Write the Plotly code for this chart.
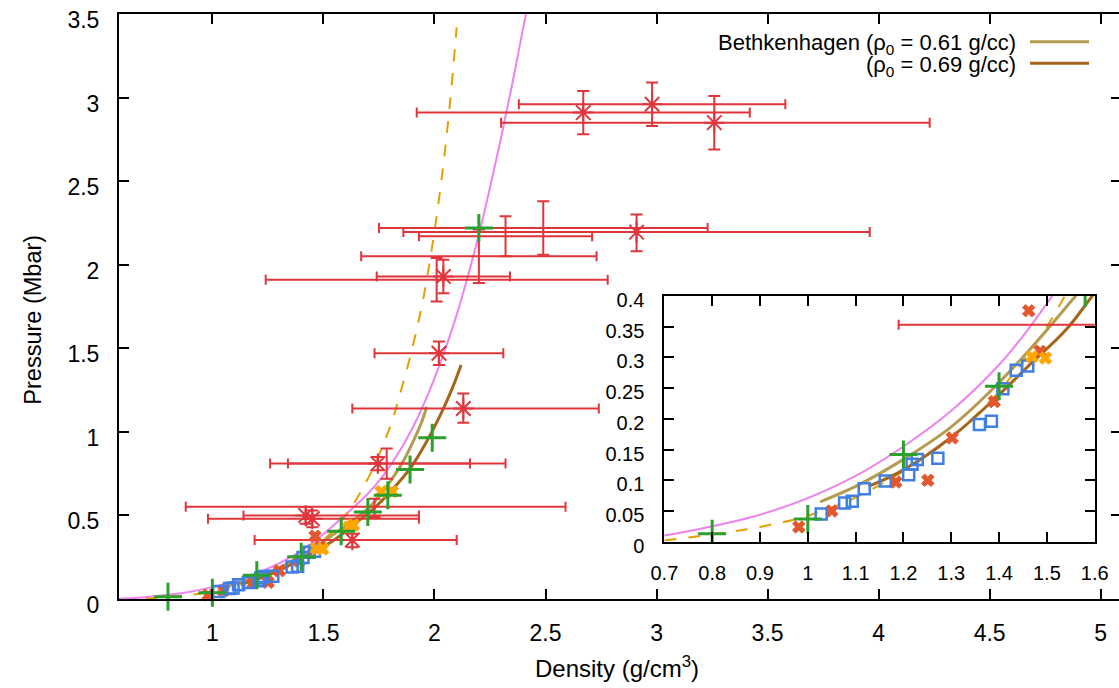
import plotly.graph_objects as go

# ---------------- data ----------------
# Red experimental points drawn with asterisk markers + asymmetric error bars
star_x   = [2.98, 2.67, 3.26, 2.91, 2.04, 2.02, 2.13, 1.745, 1.42, 1.45, 1.63]
star_y   = [2.96, 2.91, 2.85, 2.195, 1.93, 1.47, 1.14, 0.81, 0.50, 0.48, 0.353]
star_xlo = [2.38, 1.92, 2.30, 1.86, 1.74, 1.73, 1.63, 1.34, 1.14, 0.98, 1.19]
star_xhi = [3.58, 3.42, 4.23, 3.96, 2.34, 2.31, 2.74, 2.16, 1.93, 1.93, 2.10]
star_ylo = [2.83, 2.78, 2.69, 2.08, 1.83, 1.40, 1.055, 0.77, 0.45, 0.43, 0.31]
star_yhi = [3.09, 3.04, 3.01, 2.30, 2.03, 1.54, 1.23, 0.85, 0.55, 0.53, 0.39]

# Red experimental points drawn with error bars only
bar_x   = [2.49, 2.32, 2.20, 2.01, 1.785, 1.73]
bar_y   = [2.22, 2.17, 2.05, 1.91, 0.81, 0.552]
bar_xlo = [1.75, 1.93, 1.67, 1.24, 1.26, 0.88]
bar_xhi = [3.23, 2.71, 2.73, 2.78, 2.32, 2.59]
bar_ylo = [2.06, 2.05, 1.89, 1.78, 0.72, 0.49]
bar_yhi = [2.38, 2.29, 2.21, 2.04, 0.90, 0.60]

# Tomato filled-x points
tom_x = [0.981, 1.050, 1.184, 1.251, 1.302, 1.390, 1.462, 1.486]
tom_y = [0.024, 0.050, 0.097, 0.100, 0.169, 0.228, 0.376, 0.310]

# Blue open squares
blue_x = [1.028, 1.077, 1.093, 1.118, 1.162, 1.211, 1.218, 1.229, 1.272,
          1.359, 1.384, 1.408, 1.436, 1.460]
blue_y = [0.045, 0.063, 0.066, 0.086, 0.099, 0.109, 0.126, 0.134, 0.136,
          0.191, 0.196, 0.249, 0.279, 0.286]

# Green plus points
green_x = [0.80, 1.00, 1.20, 1.40, 1.58, 1.70, 1.79, 1.89, 1.99, 2.20]
green_y = [0.013, 0.037, 0.142, 0.253, 0.405, 0.52, 0.62, 0.775, 0.965, 2.22]

# Orange points
orange_x = [1.469, 1.497, 1.615, 1.635, 1.76, 1.81]
orange_y = [0.301, 0.299, 0.43, 0.443, 0.642, 0.642]

# Magenta model curve
mag_x = [0.578, 0.65, 0.70, 0.80, 0.90, 1.00, 1.10, 1.20, 1.30, 1.40, 1.46,
         1.51, 1.60, 1.70, 1.77, 1.85, 1.90, 1.95, 2.00, 2.05, 2.10, 2.15,
         2.20, 2.25, 2.30, 2.35, 2.40, 2.412]
mag_y = [0.002, 0.006, 0.010, 0.025, 0.044, 0.071, 0.107, 0.155, 0.213, 0.288,
         0.345, 0.399, 0.505, 0.63, 0.74, 0.90, 1.02, 1.16, 1.32, 1.50, 1.70,
         1.93, 2.18, 2.46, 2.76, 3.08, 3.42, 3.50]

# Orange dashed model curve
dash_x = [0.70, 0.80, 0.90, 1.00, 1.10, 1.20, 1.30, 1.40, 1.50, 1.60, 1.70,
          1.80, 1.85, 1.90, 1.95, 2.00, 2.04, 2.07, 2.10]
dash_y = [0.002, 0.012, 0.024, 0.042, 0.072, 0.115, 0.170, 0.245, 0.35, 0.50,
          0.72, 1.03, 1.25, 1.50, 1.80, 2.20, 2.60, 2.97, 3.42]

# Bethkenhagen (rho0 = 0.61 g/cc)
b61_x = [1.026, 1.10, 1.20, 1.30, 1.378, 1.469, 1.559, 1.63, 1.70, 1.76, 1.82,
         1.87, 1.91, 1.94, 1.965]
b61_y = [0.065, 0.090, 0.134, 0.187, 0.242, 0.317, 0.399, 0.465, 0.54, 0.63,
         0.74, 0.85, 0.96, 1.05, 1.15]

# Bethkenhagen (rho0 = 0.69 g/cc)
b69_x = [1.127, 1.20, 1.30, 1.39, 1.46, 1.54, 1.59, 1.66, 1.73, 1.80, 1.89,
         1.96, 2.03, 2.08, 2.12]
b69_y = [0.090, 0.117, 0.170, 0.232, 0.285, 0.345, 0.395, 0.47, 0.545, 0.64,
         0.78, 0.93, 1.11, 1.26, 1.40]

legend_labels = ["Bethkenhagen (ρ<sub>0</sub> = 0.61 g/cc)",
                 "(ρ<sub>0</sub> = 0.69 g/cc)"]

# ---------------- styling ----------------
RED = "#e0353a"
TOMATO = "#e4572e"
BLUE = "#3f7fe6"
GREEN = "#2ca02c"
ORANGE = "#ffa500"
MAGENTA = "#ee82ee"
DASHOR = "#e69f00"
KHAKI = "#b39b4f"
BROWN = "#a5651a"
FONT = "Liberation Sans, Arial, sans-serif"

# the captured page is squeezed horizontally by 1119/1135, so lay out in
# the wider frame
K = 1135.0 / 1119.0
W, H = 1135, 688
L, R, T, B = 119, 0, 14, 89
PW, PH = W - L - R, H - T - B
PX_PER_UNIT = 222.0  # reference pixels per density unit (main axes)
X0_REF = 117.0       # reference pixel of density 0.578
x_lo = 0.578 + (L / K - X0_REF) / PX_PER_UNIT
x_hi = 0.578 + (W / K - X0_REF) / PX_PER_UNIT


def pxx(px):
    return (px * K - L) / PW


def pxy(py):
    return (H - B - py) / PH


fig = go.Figure()


def add_all(xa, ya, clip):
    common = dict(xaxis=xa, yaxis=ya, showlegend=False, cliponaxis=clip,
                  hoverinfo="skip")
    # curves
    fig.add_trace(go.Scatter(x=mag_x, y=mag_y, mode="lines",
                             line=dict(color=MAGENTA, width=2, shape="spline"),
                             **common))
    fig.add_trace(go.Scatter(x=dash_x, y=dash_y, mode="lines",
                             line=dict(color=DASHOR, width=2, dash="12px,12px",
                                       shape="spline"), **common))
    fig.add_trace(go.Scatter(x=b61_x, y=b61_y, mode="lines",
                             line=dict(color=KHAKI, width=3, shape="spline"),
                             **common))
    fig.add_trace(go.Scatter(x=b69_x, y=b69_y, mode="lines",
                             line=dict(color=BROWN, width=3, shape="spline"),
                             **common))
    # red error bars only
    fig.add_trace(go.Scatter(
        x=bar_x, y=bar_y, mode="markers",
        marker=dict(size=2, color="rgba(0,0,0,0)"),
        error_x=dict(type="data", symmetric=False,
                     array=[h - c for h, c in zip(bar_xhi, bar_x)],
                     arrayminus=[c - l for l, c in zip(bar_xlo, bar_x)],
                     color=RED, thickness=2, width=5),
        error_y=dict(type="data", symmetric=False,
                     array=[h - c for h, c in zip(bar_yhi, bar_y)],
                     arrayminus=[c - l for l, c in zip(bar_ylo, bar_y)],
                     color=RED, thickness=2, width=6),
        **common))
    # red stars with error bars
    fig.add_trace(go.Scatter(
        x=star_x, y=star_y, mode="markers",
        marker=dict(symbol="asterisk-open", size=17, color=RED,
                    line=dict(color=RED, width=2)),
        error_x=dict(type="data", symmetric=False,
                     array=[h - c for h, c in zip(star_xhi, star_x)],
                     arrayminus=[c - l for l, c in zip(star_xlo, star_x)],
                     color=RED, thickness=2, width=5),
        error_y=dict(type="data", symmetric=False,
                     array=[h - c for h, c in zip(star_yhi, star_y)],
                     arrayminus=[c - l for l, c in zip(star_ylo, star_y)],
                     color=RED, thickness=2, width=6),
        **common))
    fig.add_trace(go.Scatter(x=tom_x, y=tom_y, mode="markers",
                             marker=dict(symbol="x", size=11, color=TOMATO,
                                         line=dict(color=TOMATO, width=1)),
                             **common))
    fig.add_trace(go.Scatter(x=blue_x, y=blue_y, mode="markers",
                             marker=dict(symbol="square-open", size=11,
                                         color=BLUE,
                                         line=dict(color=BLUE, width=2.5)),
                             **common))
    fig.add_trace(go.Scatter(x=orange_x, y=orange_y, mode="markers",
                             marker=dict(symbol="x", size=11, color=ORANGE,
                                         line=dict(color=ORANGE, width=1)),
                             **common))
    fig.add_trace(go.Scatter(x=green_x, y=green_y, mode="markers",
                             marker=dict(symbol="cross-thin", size=20,
                                         color=GREEN,
                                         line=dict(color=GREEN, width=3)),
                             **common))


add_all("x", "y", False)
add_all("x2", "y2", True)

axis_common = dict(showline=True, linecolor="black", linewidth=2,
                   ticks="inside", tickcolor="black", tickwidth=1.5,
                   ticklen=10, showgrid=False, zeroline=False,
                   color="black")

fig.update_layout(
    width=W, height=H,
    margin=dict(l=L, r=R, t=T, b=B, pad=0),
    paper_bgcolor="white", plot_bgcolor="white",
    font=dict(family=FONT, size=23, color="black"),
    showlegend=False,
    xaxis=dict(range=[x_lo, x_hi], tick0=1, dtick=0.5,
               mirror="ticks", tickfont=dict(size=23),
               ticklabelstandoff=12, **axis_common),
    yaxis=dict(range=[0, 3.5], tick0=0, dtick=0.5, mirror="ticks",
               tickfont=dict(size=23), ticklabelstandoff=13,
               ticklabelshift=6, **axis_common),
    xaxis2=dict(domain=[pxx(662.5), pxx(1092.7)], anchor="y2",
                range=[0.7, 1.6], tick0=0.7, dtick=0.1, mirror="ticks",
                tickfont=dict(size=20), ticklabelstandoff=12,
                **axis_common),
    yaxis2=dict(domain=[pxy(541.7), pxy(296)], anchor="x2",
                range=[0, 0.4], tick0=0, dtick=0.05, mirror="ticks",
                tickfont=dict(size=20), ticklabelstandoff=14,
                ticklabelshift=4, **axis_common),
)

annotations = [
    dict(text="Pressure (Mbar)", textangle=-90, x=pxx(31), y=pxy(320),
         xref="paper", yref="paper", showarrow=False,
         xanchor="center", yanchor="middle", font=dict(size=23.5)),
    dict(text="Density (g/cm<sup>3</sup>)", x=pxx(615), y=pxy(667),
         xref="paper", yref="paper", showarrow=False,
         xanchor="center", yanchor="middle", font=dict(size=24)),
    dict(text=legend_labels[0], x=pxx(1016), y=pxy(44), xref="paper",
         yref="paper", showarrow=False, xanchor="right", yanchor="middle",
         font=dict(size=22)),
    dict(text=legend_labels[1], x=pxx(1016), y=pxy(66), xref="paper",
         yref="paper", showarrow=False, xanchor="right", yanchor="middle",
         font=dict(size=22)),
]
fig.update_layout(annotations=annotations)

shapes = [
    dict(type="line", xref="paper", yref="paper", x0=pxx(1028), x1=pxx(1087),
         y0=pxy(41.7), y1=pxy(41.7), line=dict(color=KHAKI, width=3)),
    dict(type="line", xref="paper", yref="paper", x0=pxx(1028), x1=pxx(1087),
         y0=pxy(63.3), y1=pxy(63.3), line=dict(color=BROWN, width=3)),
]
fig.update_layout(shapes=shapes)

fig.write_html(
    "out.html",
    config={"displayModeBar": False},
    post_script="document.body.style.margin='0px';"
                "document.body.style.overflow='hidden';",
)
